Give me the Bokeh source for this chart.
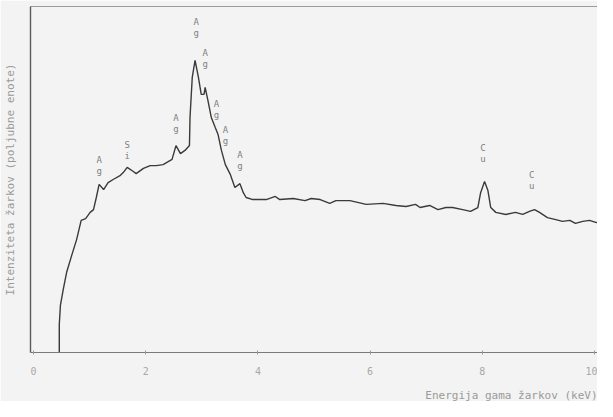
from bokeh.plotting import figure
from bokeh.models import FixedTicker, LinearAxis, Title, Range1d, ColumnDataSource
from bokeh.core.properties import value
from bokeh.embed import file_html
from bokeh.resources import INLINE

# spectrum (energy keV, intensity arbitrary units 0-100)
energy = [0.46, 0.46, 0.48, 0.53, 0.59, 0.68, 0.77, 0.85, 0.93, 1.01, 1.07, 1.12, 1.17, 1.25, 1.33,
          1.42, 1.55, 1.60, 1.67, 1.78, 1.83, 1.96, 2.08, 2.19, 2.31, 2.44, 2.47, 2.54, 2.62,
          2.70, 2.78, 2.79, 2.83, 2.88, 2.94, 2.99, 3.04, 3.06, 3.11, 3.17, 3.24, 3.29, 3.35,
          3.42, 3.51, 3.59, 3.68, 3.74, 3.79, 3.91, 4.15, 4.31, 4.39, 4.63, 4.84, 4.95, 5.11,
          5.28, 5.39, 5.64, 5.93, 6.23, 6.46, 6.64, 6.81, 6.89, 7.06, 7.21, 7.35, 7.47, 7.65,
          7.79, 7.92, 7.97, 8.04, 8.10, 8.15, 8.24, 8.42, 8.59, 8.72, 8.84, 8.93, 9.02, 9.16,
          9.31, 9.43, 9.56, 9.66, 9.79, 9.91, 10.02, 10.20]
intensity = [0.0, 8.0, 13.6, 18.2, 23.1, 28.0, 32.7, 38.2, 38.7, 40.5, 41.3, 44.8, 48.6, 47.1, 49.1,
             50.0, 51.2, 52.0, 53.5, 52.3, 51.7, 53.2, 54.0, 54.0, 54.3, 55.5, 55.8, 59.8, 57.5,
             58.4, 59.8, 67.9, 79.5, 84.4, 79.5, 74.6, 74.6, 76.6, 72.8, 67.9, 65.0, 63.0, 58.4,
             54.3, 51.4, 47.7, 48.8, 46.2, 44.8, 44.2, 44.2, 45.1, 44.2, 44.5, 43.9, 44.5, 44.2,
             43.1, 43.9, 43.9, 42.8, 43.1, 42.5, 42.2, 42.8, 41.9, 42.5, 41.3, 41.9, 41.9, 41.3,
             40.8, 41.9, 46.2, 49.4, 46.8, 41.9, 40.5, 39.9, 40.5, 39.9, 40.8, 41.3, 40.5, 39.0,
             38.4, 37.9, 38.2, 37.3, 37.9, 38.2, 37.6, 37.3]

# peak labels
label_text = ["Ag", "Si", "Ag", "Ag", "Ag", "Ag", "Ag", "Ag", "Cu", "Cu"]
label_energy = [1.17, 1.67, 2.54, 2.90, 3.06, 3.26, 3.42, 3.68, 8.01, 8.88]
label_level = [55.5, 60.1, 67.9, 95.4, 86.7, 71.7, 64.2, 57.2, 59.2, 51.4]

x_ticks = [0, 2, 4, 6, 8, 10]
x_title = "Energija gama žarkov (keV)"
y_title = "Intenziteta žarkov (poljubne enote)"

BG = "#f3f3f3"
FONT = "DejaVu Sans Mono"

p = figure(width=597, height=401, output_backend="svg", toolbar_location=None,
           x_range=Range1d(-0.053, 10.053), y_range=Range1d(0, 100),
           min_border_left=29, min_border_right=0, min_border_top=6, min_border_bottom=49)
p.background_fill_color = BG
p.border_fill_color = BG
p.outline_line_color = None
p.grid.visible = False

p.line(energy, intensity, line_color="#3a3a3a", line_width=1.4)

src = ColumnDataSource(dict(x=label_energy, y=label_level,
                            c1=[t[0] for t in label_text], c2=[t[1] for t in label_text]))
p.text(x="x", y="y", text="c1", source=src, text_font=value(FONT), text_font_size="9px",
       text_color="#808080", text_align="center", text_baseline="middle")
p.text(x="x", y="y", text="c2", source=src, text_font=value(FONT), text_font_size="9px",
       text_color="#808080", text_align="center", text_baseline="middle", y_offset=11)

# x axis
xa = p.xaxis[0]
xa.ticker = FixedTicker(ticks=x_ticks)
xa.minor_tick_line_color = None
xa.major_tick_in = 2
xa.major_tick_out = 2
xa.major_tick_line_color = "#999999"
xa.axis_line_color = "#7a7a7a"
xa.axis_line_width = 1.2
xa.major_label_text_font = FONT
xa.major_label_text_font_size = "10px"
xa.major_label_text_color = "#a8a8a8"
xa.major_label_standoff = 12
# invisible spacer label pushes the right-aligned title lower
xa.axis_label = "\u00a0"
xa.axis_label_text_font_size = "5px"
xa.axis_label_standoff = 0

# y axis
ya = p.yaxis[0]
ya.ticker = FixedTicker(ticks=[])
ya.minor_tick_line_color = None
ya.major_tick_line_color = None
ya.major_label_standoff = 0
ya.axis_line_color = "#5a5a5a"
ya.axis_line_width = 1.4
ya.axis_label = y_title
ya.axis_label_text_font = FONT
ya.axis_label_text_font_size = "11px"
ya.axis_label_text_font_style = "normal"
ya.axis_label_text_color = "#9a9a9a"
ya.axis_label_standoff = 14

# top border line
top = LinearAxis(ticker=FixedTicker(ticks=[]), axis_line_color="#9a9a9a", axis_line_width=1.2,
                 major_tick_line_color=None, minor_tick_line_color=None, major_label_standoff=0)
p.add_layout(top, "above")

t = Title(text=x_title, align="right", text_font=FONT,
          text_font_size="11px", text_font_style="normal", text_color="#9a9a9a", standoff=0)
p.add_layout(t, "below")

open("out.html", "w").write(file_html(p, INLINE))
